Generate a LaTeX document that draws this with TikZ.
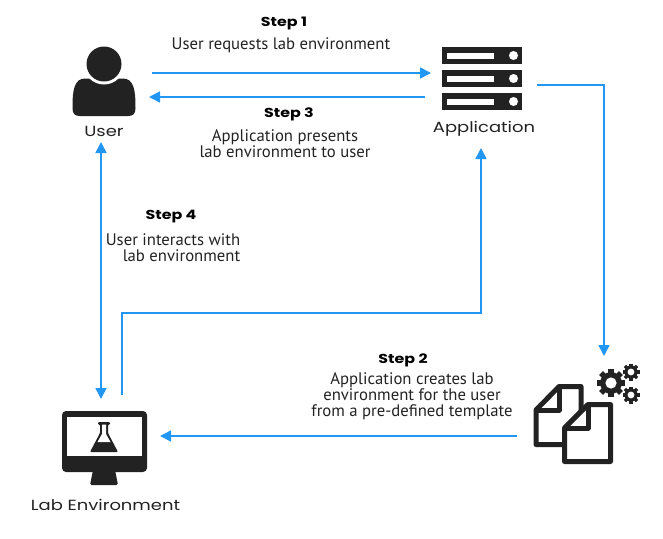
\documentclass[tikz,border=0pt]{standalone}
\usepackage{fontspec}
\setmainfont{PT Sans}
\newfontfamily\labelfont[FakeStretch=1.22]{Poppins}
\usetikzlibrary{arrows.meta}
\definecolor{ink}{HTML}{222222}
\definecolor{flow}{HTML}{2196F3}
\tikzset{
  x=1pt,y=-1pt,
  flowline/.style={draw=flow,line width=1.6pt,-{Triangle[length=11pt,width=11pt]}},
  flowboth/.style={draw=flow,line width=1.6pt,{Triangle[length=11pt,width=11pt]}-{Triangle[length=11pt,width=11pt]}},
  body/.style={font=\fontsize{16.7}{16}\selectfont,text=ink,align=center,inner sep=0pt},
  steplabel/.style={font=\labelfont\fontsize{13}{15}\selectfont\bfseries,text=black,inner sep=0pt},
  iconlabel/.style={font=\labelfont\fontsize{14.7}{16}\selectfont,text=ink,inner sep=0pt},
  sheet/.style={draw=ink,line width=5pt,fill=white,line join=round},
}
\newcommand{\gearicon}[3]{%
  \fill[ink] (#1,#2) circle[radius=#3*0.78];
  \foreach \a in {0,45,...,315}{
    \fill[ink,shift={(#1,#2)},rotate=\a] (-#3*0.2,0) rectangle (#3*0.2,#3);
  }
  \fill[white] (#1,#2) circle[radius=#3*0.4];
}
\begin{document}
\begin{tikzpicture}
\useasboundingbox (0,0) rectangle (663,538);
% User icon
\fill[ink] (72.5,108) .. controls (72.5,90) and (74,78) .. (86,78.5) -- (122,78.5) .. controls (134,78) and (135.5,90) .. (135.5,108) .. controls (135.5,114) and (133,116) .. (128,116) -- (80,116) .. controls (75,116) and (72.5,114) .. (72.5,108) -- cycle;
\fill[white] (104,64) circle[radius=20.5];
\fill[ink] (104,64) circle[radius=17.5];
% Application icon
\foreach \y in {47,70,93}{
  \fill[ink] (442,\y) rectangle (522,\y+17);
  \fill[white] (447,\y+5.5) rectangle (494,\y+11.5);
  \fill[white] (513.5,\y+8.5) circle[radius=4.5];
}
% Documents icon
\draw[sheet] (559,386.5) -- (581,386.5) -- (581,444.5) -- (536,444.5) -- (536,410) -- cycle;
\draw[draw=ink,line width=5pt,line join=round] (559,386.5) -- (559,410) -- (536,410);
\draw[sheet] (588,404.5) -- (610.5,404.5) -- (610.5,461.5) -- (564.5,461.5) -- (564.5,428) -- cycle;
\draw[draw=ink,line width=5pt,line join=round] (588,404.5) -- (588,428) -- (564.5,428);
% Gears
\gearicon{611}{383}{14}
\gearicon{631}{372}{8.5}
\gearicon{631}{395}{8.5}
% Lab monitor icon
\fill[ink,rounded corners=4pt] (62,411) rectangle (147,472);
\fill[white] (67,417) rectangle (142,456);
\fill[ink,rounded corners=1.5pt] (93,470) -- (115,470) -- (118,485) -- (90,485) -- cycle;
% Flask
\fill[ink,rounded corners=1pt] (90,452) -- (100,433) -- (100,424.5) -- (98,424.5) -- (98,422) -- (110,422) -- (110,424.5) -- (108,424.5) -- (108,433) -- (118,452) -- cycle;
\fill[white] (102,424.5) -- (106,424.5) -- (106,434) -- (110.5,442) -- (97.5,442) -- (102,434) -- cycle;
% Anchors for connectors
\node[inner sep=0pt,minimum width=63pt,minimum height=70pt] (user) at (104,81) {};
\node[inner sep=0pt,minimum width=80pt,minimum height=63pt] (app) at (482,78.5) {};
\node[inner sep=0pt,minimum width=80pt,minimum height=80pt] (docs) at (574,425) {};
\node[inner sep=0pt,minimum width=85pt,minimum height=74pt] (lab) at (104.5,448) {};
\coordinate (a1) at (152,73);
\coordinate (a2) at (431,73);
\coordinate (b1) at (425,97);
\coordinate (b2) at (149,97);
\coordinate (c1) at (537,85);
\coordinate (c2) at (604,85);
\coordinate (c3) at (604,356);
\coordinate (d1) at (517,436);
\coordinate (d2) at (160,436);
\coordinate (e1) at (122,395);
\coordinate (e2) at (122,313);
\coordinate (e3) at (481,313);
\coordinate (e4) at (481,148);
\coordinate (f1) at (101,142);
\coordinate (f2) at (101,399);
% Connectors
\draw[flowline] (a1) -- (a2);
\draw[flowline] (b1) -- (b2);
\draw[flowline] (c1) -- (c2) -- (c3);
\draw[flowline] (d1) -- (d2);
\draw[flowline] (e1) -- (e2) -- (e3) -- (e4);
\draw[flowboth] (f1) -- (f2);
% Labels
\node[iconlabel] (tuser) at (104,131) {User};
\node[iconlabel] (tapp) at (484,128.5) {Application};
\node[iconlabel] (tlab) at (105.5,505) {Lab Environment};
\node[steplabel] (s1) at (284,23) {Step 1};
\node[body] (t1) at (281,45) {User requests lab environment};
\node[steplabel] (s3) at (289,114) {Step 3};
\node[body] (t3) at (285,144) {Application presents\\lab environment to user};
\node[steplabel] (s4) at (171,217) {Step 4};
\node[body] (t4) at (173,248) {User interacts with\\\hspace*{17pt}lab environment};
\node[steplabel] (s2) at (403,360) {Step 2};
\node[body] (t2) at (412,396) {Application creates lab\\environment for the user\\from a pre-defined template};
\end{tikzpicture}
\end{document}
